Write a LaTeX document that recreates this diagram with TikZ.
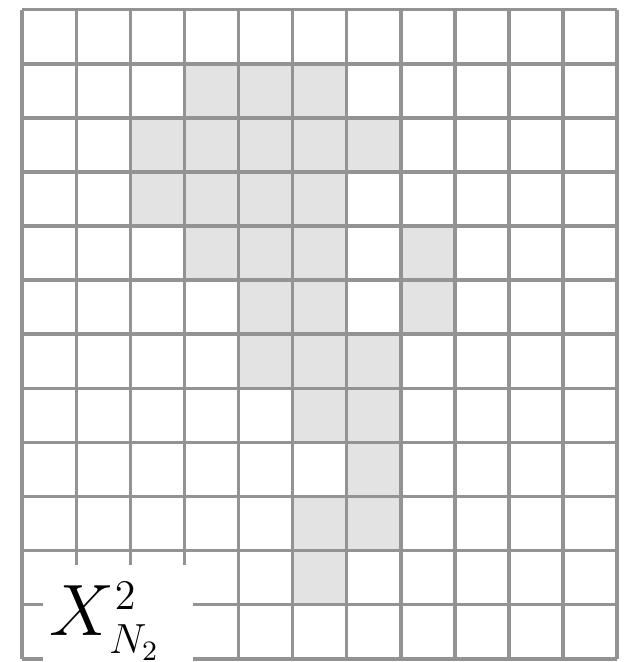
\documentclass[tikz,border=0pt]{standalone}
\usepackage{amsmath, amssymb}
\usepackage{tikz}
\DeclareMathSizes{20.74}{20.74}{12}{8}

\begin{document}
\begin{tikzpicture}[scale=0.5413, font=\fontsize{20.74}{20.74}\selectfont]
  \useasboundingbox (-0.41,-0.06) rectangle (11.15,12.18);
  % shaded cells, row by row from the top
  \fill[gray!22] (3,10) rectangle (6,11);
  \fill[gray!22] (2,9) rectangle (7,10);
  \fill[gray!22] (2,8) rectangle (6,9);
  \fill[gray!22] (3,7) rectangle (6,8);
  \fill[gray!22] (7,6) rectangle (8,8);
  \fill[gray!22] (4,6) rectangle (6,7);
  \fill[gray!22] (4,5) rectangle (7,6);
  \fill[gray!22] (5,4) rectangle (7,5);
  \fill[gray!22] (6,3) rectangle (7,4);
  \fill[gray!22] (5,2) rectangle (7,3);
  \fill[gray!22] (5,1) rectangle (6,2);
  \draw[gray!85, line width=1pt] (0,0) grid (11,12);
  \fill[white] (0.39,-0.06) rectangle (3.15,1.74);
  \node[anchor=base west, inner sep=0pt] (lbl) at (0.5,0.425) {$X^2_{N_2}$};
\end{tikzpicture}
\end{document}
